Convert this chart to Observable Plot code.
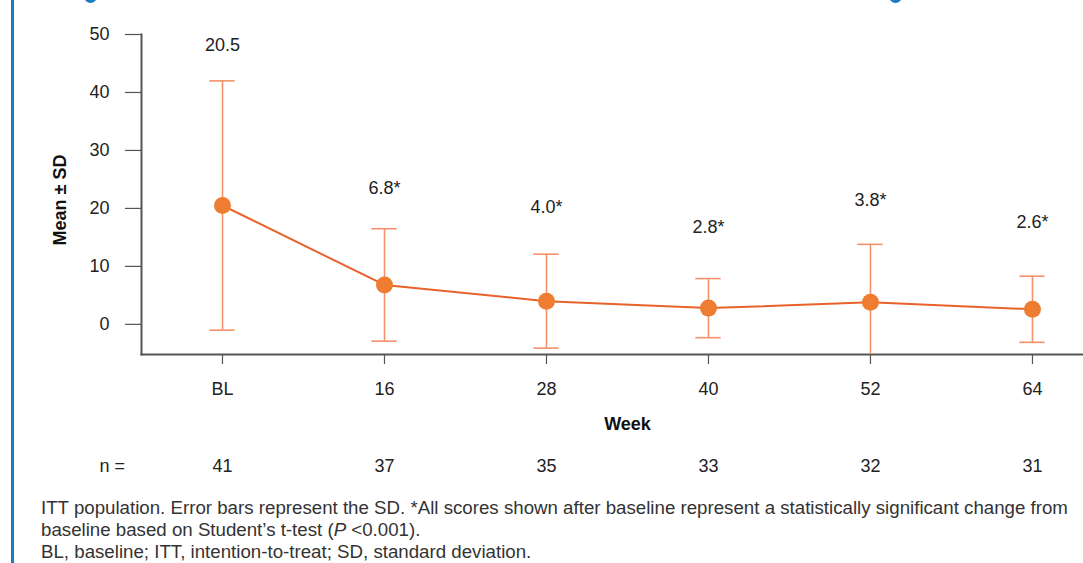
<!DOCTYPE html>
<html>
<head>
<meta charset="utf-8">
<script src="https://cdn.jsdelivr.net/npm/d3@7"></script>
<script src="https://cdn.jsdelivr.net/npm/@observablehq/plot@0.6"></script>
<style>
  html, body { margin: 0; padding: 0; background: #fff; }
  body { width: 1083px; height: 563px; position: relative; overflow: hidden;
         font-family: Arial, "Liberation Sans", sans-serif; color: #222; }
  #side { position: absolute; left: 11px; top: 0; width: 2.5px; height: 563px; background: #1b7cc2; }
  .dotdeco { position: absolute; top: -10px; width: 13px; height: 13px; border-radius: 50%; background: #1b7cc2; }
  #chart { position: absolute; left: 0; top: 0; }
  #ylabel { position: absolute; left: 60px; top: 200px; transform: translate(-50%, -50%) rotate(-90deg);
            font-size: 18px; font-weight: bold; color: #111; white-space: nowrap; line-height: 1; }
  #caption { position: absolute; left: 41px; top: 497px; font-size: 18.7px; line-height: 22px; color: #333; white-space: nowrap; }
</style>
</head>
<body>
<div id="side"></div>
<div class="dotdeco" style="left:84px"></div>
<div class="dotdeco" style="left:889px"></div>
<div id="chart"></div>
<div id="ylabel">Mean ± SD</div>
<div id="caption">
  <div>ITT population. Error bars represent the SD. *All scores shown after baseline represent a statistically significant change from</div>
  <div>baseline based on Student’s t-test (<i>P</i> &lt;0.001).</div>
  <div>BL, baseline; ITT, intention-to-treat; SD, standard deviation.</div>
</div>
<script>
// ---- data ----
const weeks = ["BL", "16", "28", "40", "52", "64"];
const means = [20.5, 6.8, 4.0, 2.8, 3.8, 2.6];
const sds = [21.5, 9.7, 8.1, 5.1, 10.0, 5.7];
const valueLabels = ["20.5", "6.8*", "4.0*", "2.8*", "3.8*", "2.6*"];
const labelAt = [48.1, 23.4, 20.2, 16.7, 21.4, 17.6];
const nCounts = [41, 37, 35, 33, 32, 31];
const yTicks = [0, 10, 20, 30, 40, 50];

const rows = weeks.map((w, i) => ({
  i, week: w, mean: means[i], lo: means[i] - sds[i], hi: means[i] + sds[i],
  label: valueLabels[i], labelY: labelAt[i], n: nCounts[i]
}));

const lineColor = "#e8622a";
const dotColor = "#ee7d31";
const errColor = "#f4916a";
const axisColor = "#555";
const capHalf = 0.078;
const fs = 18;

const chart = Plot.plot({
  width: 1083,
  height: 480,
  marginLeft: 141,
  marginRight: 0,
  marginTop: 34,
  marginBottom: 126,
  style: { fontFamily: "Arial, 'Liberation Sans', sans-serif", fontSize: fs + "px", color: "#222", background: "transparent", overflow: "visible" },
  x: { type: "linear", domain: [-0.5, 5.315] },
  y: { domain: [-5.2, 50] },
  marks: [
    // axes
    Plot.axisY({ ticks: yTicks, tickSize: 16, tickPadding: 16, label: null, stroke: axisColor, strokeWidth: 1.2, fontSize: fs }),
    Plot.axisX({ ticks: d3.range(weeks.length), tickFormat: i => weeks[i], tickSize: 10, tickPadding: 18, label: null, stroke: axisColor, strokeWidth: 1.2, fontSize: fs }),
    Plot.frame({ anchor: "left", stroke: axisColor, strokeWidth: 2 }),
    Plot.frame({ anchor: "bottom", stroke: axisColor, strokeWidth: 2 }),
    // error bars
    Plot.ruleX(rows, { x: "i", y1: "lo", y2: "hi", stroke: errColor, strokeWidth: 1.6, clip: true }),
    Plot.ruleY(rows, { x1: d => d.i - capHalf, x2: d => d.i + capHalf, y: "hi", stroke: errColor, strokeWidth: 1.6, clip: true }),
    Plot.ruleY(rows, { x1: d => d.i - capHalf, x2: d => d.i + capHalf, y: "lo", stroke: errColor, strokeWidth: 1.6, clip: true }),
    // line + dots
    Plot.line(rows, { x: "i", y: "mean", stroke: lineColor, strokeWidth: 2 }),
    Plot.dot(rows, { x: "i", y: "mean", r: 8.5, fill: dotColor, stroke: "none" }),
    // value labels
    Plot.text(rows, { x: "i", y: "labelY", text: "label", fontSize: fs, fill: "#222" }),
    // x axis title
    Plot.text(["Week"], { frameAnchor: "bottom", dx: 15, dy: 75, fontWeight: "bold", fontSize: fs, fill: "#111" }),
    // n row
    Plot.text(rows, { x: "i", text: d => String(d.n), frameAnchor: "bottom", dy: 117, fontSize: fs, fill: "#222" }),
    Plot.text(["n ="], { frameAnchor: "bottom-left", dx: -42, dy: 117, fontSize: fs, fill: "#222" })
  ]
});
document.getElementById("chart").appendChild(chart);
</script>
</body>
</html>
